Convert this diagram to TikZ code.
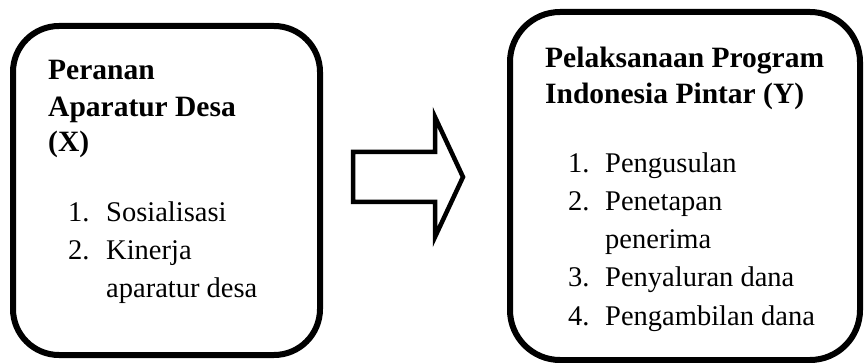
\documentclass[tikz,border=0pt]{standalone}
\usepackage{fontspec}
\setmainfont{Liberation Serif}
\begin{document}
\begin{tikzpicture}[x=1pt,y=-1pt,
  framebox/.style={draw=black,line width=6pt,rounded corners=46pt,inner sep=0pt},
  titletext/.style={anchor=base west,inner sep=0pt,font=\fontsize{29.5}{36}\selectfont\bfseries},
  itemtext/.style={anchor=base west,inner sep=0pt,font=\fontsize{28.5}{36}\selectfont},
  blockarrow/.style={draw=black,line width=4.5pt,miter limit=10,fill=white}]
\useasboundingbox (0,0) rectangle (864,363);
% boxes
\node[framebox,minimum width=307pt,minimum height=329pt] (boxX) at (166.5,190.5) {};
\node[framebox,minimum width=350pt,minimum height=348pt,rounded corners=50pt] (boxY) at (685,186) {};
% left box text
\node[titletext] (x1) at (48,80) {Peranan};
\node[titletext] (x2) at (48,117) {Aparatur Desa};
\node[titletext] (x3) at (48,152) {(X)};
\node[itemtext] (xn1) at (68,222) {1.};
\node[itemtext] (xi1) at (106,222) {Sosialisasi};
\node[itemtext] (xn2) at (68,260) {2.};
\node[itemtext] (xi2) at (106,260) {Kinerja};
\node[itemtext] (xi2b) at (106,297) {aparatur desa};
% right box text
\node[titletext] (y1) at (545,68) {Pelaksanaan Program};
\node[titletext] (y2) at (545,104) {Indonesia Pintar (Y)};
\node[itemtext] (yn1) at (568,173) {1.};
\node[itemtext] (yi1) at (605,173) {Pengusulan};
\node[itemtext] (yn2) at (568,211) {2.};
\node[itemtext] (yi2) at (605,211) {Penetapan};
\node[itemtext] (yi2b) at (605,248) {penerima};
\node[itemtext] (yn3) at (568,287) {3.};
\node[itemtext] (yi3) at (605,287) {Penyaluran dana};
\node[itemtext] (yn4) at (568,325) {4.};
\node[itemtext] (yi4) at (605,325) {Pengambilan dana};
% block arrow between boxes
\coordinate (arrtail) at (353,177);
\coordinate (arrtip) at (463,177);
\draw[blockarrow] ([yshift=25pt]arrtail) -- ++(82,0) -- ++(0,-35) -- (arrtip) -- ++(-28,60) -- ++(0,-35) -- ++(-82,0) -- cycle;
\end{tikzpicture}
\end{document}
